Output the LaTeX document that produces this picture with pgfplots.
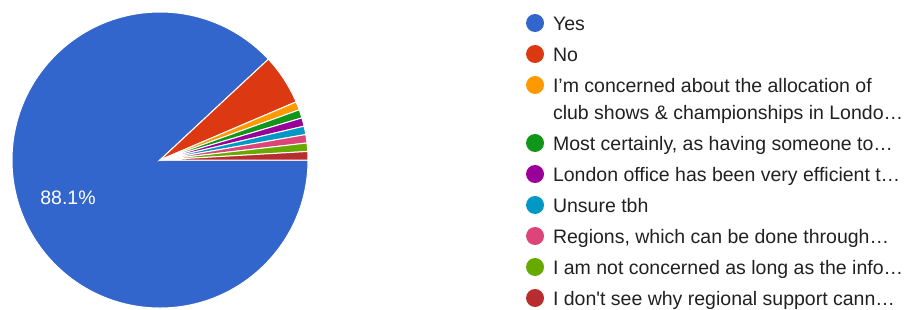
\documentclass[border=0pt]{standalone}
\usepackage{fontspec}
\setmainfont{Liberation Sans}
\usepackage{pgfplots}
\pgfplotsset{compat=1.18}
\definecolor{c1}{HTML}{3366CC}
\definecolor{c2}{HTML}{DC3912}
\definecolor{c3}{HTML}{FF9900}
\definecolor{c4}{HTML}{109618}
\definecolor{c5}{HTML}{990099}
\definecolor{c6}{HTML}{0099C6}
\definecolor{c7}{HTML}{DD4477}
\definecolor{c8}{HTML}{66AA00}
\definecolor{c9}{HTML}{B82E2E}
\begin{document}%
\begin{tikzpicture}%
\gdef\cum{0}%
\foreach \c [count=\i] in {96,6,1,1,1,1,1,1,1} {%
  \pgfmathsetmacro\sa{-\cum/109*360}%
  \pgfmathsetmacro\newcum{\cum+\c}%
  \pgfmathsetmacro\sb{-\newcum/109*360}%
  \expandafter\xdef\csname pieA\i\endcsname{\sa}%
  \expandafter\xdef\csname pieB\i\endcsname{\sb}%
  \xdef\cum{\newcum}%
}%
\begin{axis}[
  x=1pt, y=1pt, xmin=0, xmax=912, ymin=0, ymax=309, y dir=reverse,
  hide axis, clip=false,
  legend style={at={(0.5768,0.9641)}, anchor=north west, draw=none, fill=none,
    inner sep=0pt, outer sep=0pt, row sep=4pt,
    font=\fontsize{19.5}{27}\selectfont, text=black!87,
    cells={anchor=base west}, nodes={inner sep=0pt, text depth=, text height=}},
  legend image code/.code={\fill[#1, draw=none] (9pt,7pt) circle[radius=9pt]; \path[draw=none, fill=none] (0pt,0pt) -- (27pt,0pt);},
]
\pgfplotsinvokeforeach{1,...,9}{%
  \fill[c#1, draw=white, line width=1pt] (axis cs:160,160) -- ++(\csname pieA#1\endcsname:148pt)
    arc[start angle=\csname pieA#1\endcsname, end angle=\csname pieB#1\endcsname, radius=148pt] -- cycle;
}
\node[text=white, font=\fontsize{19.5}{27}\selectfont] at (axis cs:68,198) {88.1\%};
\addlegendimage{color=c1}\addlegendentry{Yes\strut}
\addlegendimage{color=c2}\addlegendentry{No\strut}
\addlegendimage{color=c3}\addlegendentry{\parbox[t]{360pt}{I’m concerned about the allocation of\strut\\club shows \& championships in Londo…\strut}}
\addlegendimage{color=c4}\addlegendentry{Most certainly, as having someone to…\strut}
\addlegendimage{color=c5}\addlegendentry{London office has been very efficient t…\strut}
\addlegendimage{color=c6}\addlegendentry{Unsure tbh\strut}
\addlegendimage{color=c7}\addlegendentry{Regions, which can be done through…\strut}
\addlegendimage{color=c8}\addlegendentry{I am not concerned as long as the info…\strut}
\addlegendimage{color=c9}\addlegendentry{I don\textquotesingle t see why regional support cann…\strut}
\end{axis}%
\pgfresetboundingbox
\path (0,0) rectangle (912pt,309pt);
\end{tikzpicture}%
\end{document}
